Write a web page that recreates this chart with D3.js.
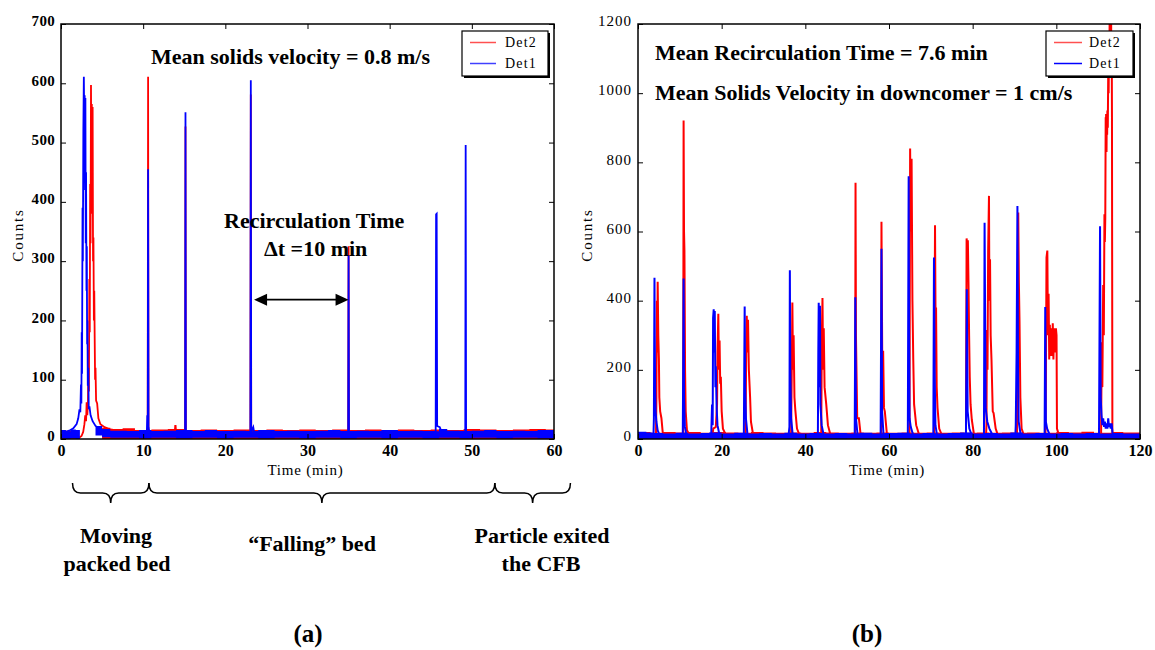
<!DOCTYPE html>
<html><head><meta charset="utf-8">
<script src="https://cdn.jsdelivr.net/npm/d3@7"></script>
<style>body{margin:0;background:#fff}svg{display:block}</style>
</head><body>
<svg id="c" width="1155" height="650"></svg>
<script>
// ---------------- DATA ----------------
const seriesNames = ["Det2", "Det1"];
const leftXTicks = [0, 10, 20, 30, 40, 50, 60];
const leftYTicks = [0, 100, 200, 300, 400, 500, 600, 700];
const rightXTicks = [0, 20, 40, 60, 80, 100, 120];
const rightYTicks = [0, 200, 400, 600, 800, 1000, 1200];

// (a) Det1 (blue) trace: [time min, counts]
const leftDet1 = [
  [0,10],[1.0,14],[1.5,18],[1.9,25],[2.1,35],[2.25,50],[2.35,45],[2.43,92],[2.48,60],[2.52,180],[2.56,110],
  [2.62,390],[2.66,300],[2.72,520],[2.78,611],[2.83,540],[2.88,580],[2.92,420],[2.97,575],[3.01,330],[3.05,450],
  [3.1,250],[3.14,325],[3.18,160],[3.22,200],[3.26,90],[3.32,120],[3.38,50],[3.46,55],[3.6,40],[3.85,30],
  [4.2,22],[4.7,18],[5.3,12],
  [10.45,12],[10.5,40],[10.56,35],[10.6,455],[10.65,20],[10.75,12],
  [15.1,12],[15.15,551],[15.2,12],
  [23.05,12],[23.1,605],[23.15,12],[23.4,20],[23.5,12],
  [34.95,12],[35.0,310],[35.05,12],
  [45.6,12],[45.65,379],[45.72,380],[45.78,22],[46.1,20],[46.3,12],
  [49.2,12],[49.25,496],[49.3,12],[60,12]
];
// (a) Det2 (red) trace
const leftDet2 = [
  [0,8],[2.0,6],[2.2,2],[2.5,5],[2.7,12],[2.85,25],[2.95,40],[3.05,30],[3.12,62],[3.2,40],[3.28,60],[3.35,150],
  [3.4,80],[3.45,270],[3.5,180],[3.55,430],[3.6,330],[3.65,597],[3.7,450],[3.75,565],[3.8,380],[3.85,560],
  [3.9,300],[3.95,340],[4.0,200],[4.05,250],[4.1,170],[4.15,100],[4.2,120],[4.27,65],[4.4,60],[4.55,35],
  [4.8,25],[5.3,20],[6.0,16],[7,14],
  [10.55,12],[10.6,611],[10.65,12],
  [13.85,12],[13.9,22],[13.95,22],[14.0,12],
  [15.1,12],[15.15,527],[15.2,12],
  [23.05,12],[23.1,581],[23.15,12],
  [34.95,12],[35.0,325],[35.05,12],[60,10]
];
// (a) baseline noise bands: [time, low, high]
const leftDet1Band = [
  [0,1,15],[0.6,0,13],[1.2,1,16],[1.8,0,15],[2.3,1,17],null,
  [4.2,6,22],[5,3,17],[6,2,14],[8,2,13],[9.5,1,15],[11,2,13],[12.5,2,14],[14,1,15],[16,2,13],[17.5,2,15],
  [19,1,13],[21,2,14],[22.5,2,13],[24,1,15],[26,2,13],[27.5,2,14],[29,1,13],[31,2,14],[32.5,2,15],[34,1,13],
  [36,2,14],[37.5,2,13],[39,1,15],[41,2,13],[42.5,2,14],[44,1,13],[46,2,17],[47,2,14],[48.5,1,13],[50,2,14],
  [51.5,2,15],[53,1,13],[55,2,14],[56.5,2,13],[58,1,15],[60,2,14]
];
const leftDet2Band = [
  [0,0,14],[2.2,0,12],null,
  [5.0,0,19],[6,0,17],[7.5,0,18],[9,0,15],[11,0,16],[13,0,17],[15,0,15],[17,0,16],[19,0,15],[21,0,16],
  [23,0,15],[25,0,16],[27,0,15],[29,0,16],[31,0,15],[33,0,16],[35,0,15],[37,0,16],[39,0,15],[41,0,16],
  [43,0,15],[45,0,16],[47,0,15],[49,0,17],[51,0,16],[53,0,15],[55,0,16],[57,0,17],[59,0,16],[60,0,16]
];

// (b) Det1 (blue) trace
const rightDet1 = [
  [0,10],[3.7,10],[3.8,60],[3.94,466],[4.0,300],[4.1,135],[4.2,80],[4.4,50],[4.7,25],[5.2,10],
  [10.7,10],[10.8,200],[10.9,464],[11.0,120],[11.2,35],[11.6,10],
  [17.5,10],[17.7,100],[17.85,40],[17.95,350],[18.1,375],[18.2,250],[18.35,370],[18.5,150],[18.6,210],[18.8,90],[19.0,40],[19.5,10],
  [25.3,10],[25.4,200],[25.5,383],[25.6,150],[25.8,60],[26.2,10],
  [36.0,12],[36.2,35],[36.3,488],[36.4,200],[36.6,60],[37.0,10],
  [43.0,10],[43.1,250],[43.2,394],[43.35,150],[43.5,385],[43.6,100],[43.9,40],[44.4,10],
  [51.8,10],[51.95,410],[52.1,60],[52.5,10],
  [58.0,12],[58.2,550],[58.35,80],[58.7,10],
  [64.5,10],[64.7,760],[64.8,300],[64.9,60],[65.2,35],[65.8,10],
  [70.6,10],[70.75,525],[70.9,200],[71.1,40],[71.5,10],
  [78.3,10],[78.4,14],[78.6,433],[78.8,80],[79.2,30],[79.8,10],
  [82.7,12],[82.85,625],[83.0,300],[83.1,90],[83.5,50],[84,30],[84.8,10],
  [90.2,10],[90.3,40],[90.5,250],[90.7,674],[90.85,200],[91.0,50],[91.5,10],
  [97.2,14],[97.35,382],[97.5,50],[97.8,30],[98.5,10],
  [110.2,10],[110.45,615],[110.6,120],[110.8,70],[111.0,40],[111.2,60],[111.4,35],[111.6,50],[111.8,30],[112,45],
  [112.2,30],[112.4,60],[112.6,35],[112.8,45],[113.0,30],[113.2,45],[113.5,10],[120,10]
];
// (b) Det2 (red) trace
const rightDet2 = [
  [0,10],[4.3,10],[4.4,120],[4.5,400],[4.6,250],[4.7,455],[4.85,300],[5.0,230],[5.1,120],[5.3,80],[5.6,60],[5.9,20],[6.5,12],
  [10.8,10],[10.9,921],[11.0,600],[11.1,545],[11.25,200],[11.4,80],[11.7,25],[12.3,12],
  [17.8,12],[18.0,30],[18.6,35],[18.9,100],[19.0,250],[19.2,362],[19.35,200],[19.5,285],[19.65,160],[19.8,180],[20.0,80],[20.3,30],[21,12],
  [25.7,14],[25.9,300],[26.0,356],[26.15,250],[26.3,345],[26.5,200],[26.8,120],[27.0,50],[27.5,14],
  [36.6,14],[36.8,250],[36.9,395],[37.05,200],[37.2,300],[37.4,120],[37.6,85],[38,30],[38.6,12],
  [43.8,14],[43.95,300],[44.1,408],[44.25,200],[44.4,320],[44.6,150],[45.0,100],[45.4,40],[46,12],
  [51.9,12],[52.0,741],[52.1,300],[52.25,180],[52.4,60],[52.8,60],[53.2,14],
  [58.1,14],[58.2,628],[58.4,200],[58.6,255],[58.8,90],[59.0,80],[59.5,14],
  [64.9,14],[65.05,840],[65.2,600],[65.4,810],[65.6,400],[65.8,230],[66.0,100],[66.5,40],[67.2,12],
  [70.8,12],[71.0,618],[71.15,300],[71.25,380],[71.4,150],[71.6,90],[72,30],[72.6,12],
  [78.4,14],[78.55,580],[78.7,560],[78.85,575],[79.0,455],[79.15,300],[79.3,180],[79.5,100],[79.8,55],[80.3,14],
  [83.2,12],[83.3,40],[83.4,315],[83.55,200],[83.7,545],[83.9,703],[84.0,400],[84.15,520],[84.3,300],[84.5,230],[84.8,80],[85,75],[85.5,30],[86,12],
  [90.6,14],[90.8,400],[90.9,655],[91.05,450],[91.2,340],[91.4,120],[91.7,30],[92.2,12],
  [97.4,14],[97.5,160],[97.65,525],[97.85,545],[98.0,300],[98.15,420],[98.3,230],[98.45,330],[98.6,240],[98.8,320],
  [99.0,240],[99.15,335],[99.3,230],[99.5,320],[99.7,250],[99.9,320],[100.05,300],[100.15,30],[100.6,12],
  [110.7,12],[110.85,280],[111.0,150],[111.2,445],[111.35,300],[111.5,650],[111.6,570],[111.7,640],[111.8,930],[111.85,840],
  [111.9,940],[112.0,830],[112.05,920],[112.15,880],[112.2,950],[112.3,900],[112.4,1050],[112.5,1000],[112.6,1150],
  [112.7,1100],[112.75,1250],[112.9,1300],[113.0,1150],[113.1,1220],[113.15,1060],[113.25,1100],[113.3,930],
  [113.4,10],[120,10]
];
const rightDet1Band = [
  [0,0,21],[2,0,19],[3.5,0,17],[6,0,16],[9,1,18],[12,0,16],[15,1,17],[17,0,19],[20,1,16],[23,0,18],[26,1,16],
  [29,0,17],[32,1,16],[35,0,18],[38,1,16],[41,0,17],[44,1,16],[47,0,17],[50,1,16],[53,0,18],[56,1,16],
  [59,0,17],[62,1,18],[65,0,16],[68,1,17],[71,0,16],[74,1,17],[77,0,19],[80,1,16],[83,0,17],[86,1,16],
  [89,0,19],[92,1,16],[95,0,17],[98,1,16],[101,0,17],[104,1,16],[107,0,17],[110,1,16],[113.5,0,17],[116,1,16],[120,0,17]
];
const rightDet2Band = [
  [0,0,20],[3,0,18],[6,0,20],[9,0,19],[12,0,20],[15,0,18],[18,0,20],[21,0,19],[24,0,18],[27,0,20],[30,0,19],
  [33,0,18],[36,0,19],[39,0,18],[42,0,20],[45,0,19],[48,0,18],[51,0,19],[54,0,18],[57,0,19],[60,0,18],
  [63,0,19],[66,0,18],[69,0,19],[72,0,18],[75,0,19],[78,0,18],[81,0,19],[84,0,18],[87,0,19],[90,0,18],
  [93,0,19],[96,0,18],[100,0,20],[103,0,19],[106,0,21],[109,0,18],[113.5,0,20],[116,0,19],[120,0,18]
];

// annotations
const recircArrow = [23.5, 35.0, 235];           // from t, to t, at counts
const braceSpans = [[1.4, 10.7], [10.7, 52.8], [52.8, 62]];

// ---------------- DRAW ----------------
const svg = d3.select("#c");
svg.append("rect").attr("width", 1155).attr("height", 650).attr("fill", "#fff");
const FONT = "'Liberation Serif','Times New Roman',Times,serif";
const RED = "#ff0000", BLUE = "#0000ff";

function panel(cfg) {
  const x = d3.scaleLinear().domain(cfg.xDomain).range([cfg.x0, cfg.x1]);
  const y = d3.scaleLinear().domain(cfg.yDomain).range([cfg.y1, cfg.y0]);
  const g = svg.append("g");
  const clipId = "clip" + cfg.id;
  svg.append("clipPath").attr("id", clipId).append("rect")
    .attr("x", cfg.x0).attr("y", cfg.y0).attr("width", cfg.x1 - cfg.x0).attr("height", cfg.y1 - cfg.y0);
  const plot = g.append("g").attr("clip-path", `url(#${clipId})`);

  const area = d3.area().defined(d => d).x(d => x(d[0])).y0(d => y(d[1])).y1(d => y(d[2])).curve(d3.curveStepAfter);
  const line = d3.line().x(d => x(d[0])).y(d => y(d[1]));

  plot.append("path").datum(cfg.band2).attr("d", area).attr("fill", RED);
  plot.append("path").datum(cfg.det2).attr("d", line).attr("fill", "none").attr("stroke", RED).attr("stroke-width", cfg.sw);
  plot.append("path").datum(cfg.band1).attr("d", area).attr("fill", BLUE);
  plot.append("path").datum(cfg.det1).attr("d", line).attr("fill", "none").attr("stroke", BLUE).attr("stroke-width", cfg.sw);

  const fmt = d3.format("d");
  const bottom = g.append("g").attr("transform", `translate(0,${cfg.y1})`)
    .call(d3.axisBottom(x).tickValues(cfg.xTicks).tickSize(-5).tickPadding(6).tickFormat(fmt));
  bottom.selectAll("text").attr("font-family", FONT).attr("font-size", 16).attr("font-weight", "bold").attr("fill", "#000");
  g.append("g").attr("transform", `translate(0,${cfg.y0})`)
    .call(d3.axisTop(x).tickValues(cfg.xTicks).tickSize(-5).tickFormat(""));
  const left = g.append("g").attr("transform", `translate(${cfg.x0},0)`)
    .call(d3.axisLeft(y).tickValues(cfg.yTicks).tickSize(-5).tickPadding(6).tickFormat(fmt));
  left.selectAll("text").attr("font-family", FONT).attr("font-size", 15)
    .attr("font-weight", cfg.yBold ? "bold" : "normal").attr("letter-spacing", cfg.yBold ? 0.3 : 1)
    .attr("dy", "0.12em").attr("fill", "#000");
  g.append("g").attr("transform", `translate(${cfg.x1},0)`)
    .call(d3.axisRight(y).tickValues(cfg.yTicks).tickSize(-5).tickFormat(""));
  g.selectAll(".domain").remove();
  g.selectAll(".tick line").attr("stroke", "#000").attr("stroke-width", 1);
  g.append("rect").attr("x", cfg.x0).attr("y", cfg.y0).attr("width", cfg.x1 - cfg.x0).attr("height", cfg.y1 - cfg.y0)
    .attr("fill", "none").attr("stroke", "#000").attr("stroke-width", 1.5);

  g.append("text").attr("x", (cfg.x0 + cfg.x1) / 2 - 2).attr("y", 475).attr("text-anchor", "middle")
    .attr("font-family", FONT).attr("font-size", 15).attr("letter-spacing", 0.8).text("Time (min)");
  g.append("text").attr("transform", `translate(${cfg.yLabelX},235) rotate(-90)`).attr("text-anchor", "middle")
    .attr("font-family", FONT).attr("font-size", 15).attr("letter-spacing", 1.8).text("Counts");

  const L = cfg.legend;
  g.append("rect").attr("x", L.x + 2).attr("y", L.y + 2).attr("width", L.w).attr("height", L.h).attr("fill", "#000");
  g.append("rect").attr("x", L.x).attr("y", L.y).attr("width", L.w).attr("height", L.h)
    .attr("fill", "#fff").attr("stroke", "#000").attr("stroke-width", 1.2);
  seriesNames.forEach((name, i) => {
    const yy = L.y + 11.5 + i * 21;
    g.append("line").attr("x1", L.x + 8).attr("x2", L.x + 8 + L.lw).attr("y1", yy).attr("y2", yy)
      .attr("stroke", i === 0 ? "#ff5050" : (cfg.id === "a" ? "#4040ff" : "#0000ff")).attr("stroke-width", 1.5);
    g.append("text").attr("x", L.x + L.tx).attr("y", yy + 4.5).attr("font-family", FONT).attr("font-size", 14)
      .attr("letter-spacing", 1.2).text(name);
  });
  return { x, y, g };
}

const A = panel({
  id: "a", xDomain: [0, 60], yDomain: [0, 700], x0: 61, x1: 554, y0: 24, y1: 439,
  xTicks: leftXTicks, yTicks: leftYTicks, yBold: true, sw: 1.8, yLabelX: 23,
  det1: leftDet1, det2: leftDet2, band1: leftDet1Band, band2: leftDet2Band,
  legend: { x: 462, y: 31, w: 86, h: 45, lw: 26, tx: 43 }
});
const B = panel({
  id: "b", xDomain: [0, 120], yDomain: [0, 1200], x0: 638, x1: 1140, y0: 24, y1: 439,
  xTicks: rightXTicks, yTicks: rightYTicks, yBold: false, sw: 2, yLabelX: 592,
  det1: rightDet1, det2: rightDet2, band1: rightDet1Band, band2: rightDet2Band,
  legend: { x: 1046, y: 31, w: 87, h: 45, lw: 28, tx: 43 }
});

function bold(txt, x, y, size, anchor) {
  svg.append("text").attr("x", x).attr("y", y).attr("font-family", FONT).attr("font-weight", "bold")
    .attr("font-size", size).attr("text-anchor", anchor || "start").text(txt);
}
bold("Mean solids velocity = 0.8 m/s", 151, 64, 22);
bold("Recirculation Time", 224, 228, 22);
bold("\u0394t =10 min", 264, 256, 22);
{
  const xa = A.x(recircArrow[0]), xb = A.x(recircArrow[1]), ya = A.y(recircArrow[2]);
  svg.append("line").attr("x1", xa + 8).attr("x2", xb - 8).attr("y1", ya).attr("y2", ya).attr("stroke", "#000").attr("stroke-width", 1.8);
  svg.append("path").attr("d", `M${xa},${ya} L${xa + 13},${ya - 6} L${xa + 13},${ya + 6} Z`).attr("fill", "#000");
  svg.append("path").attr("d", `M${xb},${ya} L${xb - 13},${ya - 6} L${xb - 13},${ya + 6} Z`).attr("fill", "#000");
}
bold("Mean Recirculation Time = 7.6 min", 655, 59.5, 22);
bold("Mean Solids Velocity in downcomer = 1 cm/s", 655, 100, 22);

braceSpans.forEach(([a, b]) => {
  const x1 = A.x(a), x2 = A.x(b), xm = (x1 + x2) / 2, r = 8;
  const yT = 483, yM = 493, yB = 503;
  svg.append("path").attr("d",
    `M${x1},${yT} Q${x1},${yM} ${x1 + r},${yM} L${xm - r},${yM} Q${xm},${yM} ${xm},${yB} ` +
    `Q${xm},${yM} ${xm + r},${yM} L${x2 - r},${yM} Q${x2},${yM} ${x2},${yT}`)
    .attr("fill", "none").attr("stroke", "#000").attr("stroke-width", 1.5);
});
bold("Moving", 116, 543, 22, "middle");
bold("packed bed", 117, 571, 22, "middle");
bold("\u201CFalling\u201D bed", 312, 551, 22, "middle");
bold("Particle exited", 542, 543, 22, "middle");
bold("the CFB", 541, 571, 22, "middle");
bold("(a)", 308, 642, 25, "middle");
bold("(b)", 867, 642, 25, "middle");
</script>
</body></html>
